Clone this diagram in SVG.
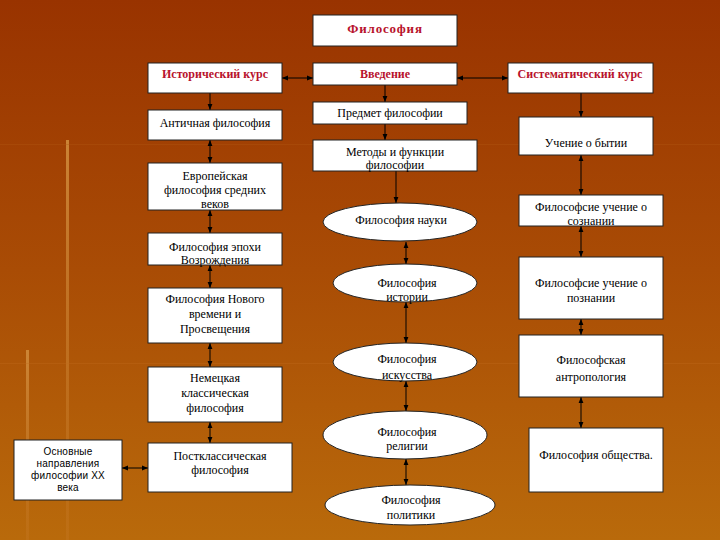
<svg xmlns="http://www.w3.org/2000/svg" width="720" height="540" viewBox="0 0 720 540">
<defs>
<linearGradient id="bg" x1="0" y1="0" x2="0" y2="1">
<stop offset="0" stop-color="#993300"/>
<stop offset="0.5" stop-color="#a94c05"/>
<stop offset="1" stop-color="#b96a0b"/>
</linearGradient>
<linearGradient id="deco" x1="0" y1="0" x2="0" y2="1">
<stop offset="0" stop-color="#d08a3a" stop-opacity="0.9"/>
<stop offset="1" stop-color="#c77a28" stop-opacity="0.3"/>
</linearGradient>
<marker id="ah" viewBox="0 0 10 10" refX="10" refY="5" markerWidth="6" markerHeight="6" orient="auto-start-reverse" markerUnits="userSpaceOnUse">
<path d="M0,1 L10,5 L0,9 Z" fill="#000"/>
</marker>
</defs>
<style>
.box{fill:#fff;stroke:#222;stroke-width:1}
.t{font-family:"Liberation Serif","Times New Roman",serif;font-size:12px;fill:#000;text-anchor:middle}
.h{font-family:"Liberation Serif","Times New Roman",serif;font-size:12px;font-weight:bold;fill:#b8122c;text-anchor:middle}
.s{font-family:"Liberation Sans",Arial,sans-serif;font-size:10px;fill:#000;text-anchor:middle;letter-spacing:0.2px}
.c{stroke:#000;stroke-width:1;fill:none}
.one{marker-end:url(#ah)}
.two{marker-start:url(#ah);marker-end:url(#ah)}
</style>
<rect x="0" y="0" width="720" height="540" fill="url(#bg)"/>
<rect x="66" y="140" width="3" height="400" fill="url(#deco)"/>
<rect x="26" y="350" width="3" height="190" fill="url(#deco)"/>
<rect x="0" y="144" width="720" height="1" fill="#b35a14" opacity="0.35"/>
<rect x="0" y="363" width="720" height="1" fill="#c06a1c" opacity="0.35"/>

<g id="connectors">
<line class="c two" x1="282" y1="78" x2="313" y2="78"/>
<line class="c two" x1="457" y1="78" x2="508" y2="78"/>
<line class="c one" x1="210" y1="93" x2="210" y2="110"/>
<line class="c two" x1="210" y1="140" x2="210" y2="163"/>
<line class="c two" x1="210" y1="210" x2="210" y2="233"/>
<line class="c two" x1="210" y1="265" x2="210" y2="288"/>
<line class="c two" x1="210" y1="343" x2="210" y2="367"/>
<line class="c two" x1="210" y1="422" x2="210" y2="443"/>
<line class="c two" x1="122" y1="468" x2="148" y2="468"/>
<line class="c one" x1="385" y1="85" x2="385" y2="102"/>
<line class="c one" x1="385" y1="124" x2="385" y2="140"/>
<line class="c one" x1="396" y1="171" x2="396" y2="203"/>
<line class="c two" x1="406" y1="242" x2="406" y2="264"/>
<line class="c two" x1="406" y1="302" x2="406" y2="343"/>
<line class="c two" x1="406" y1="381" x2="406" y2="411"/>
<line class="c two" x1="406" y1="459" x2="406" y2="485"/>
<line class="c one" x1="581" y1="93" x2="581" y2="117"/>
<line class="c two" x1="581" y1="155" x2="581" y2="195"/>
<line class="c two" x1="581" y1="226" x2="581" y2="257"/>
<line class="c two" x1="581" y1="319" x2="581" y2="335"/>
<line class="c two" x1="581" y1="397" x2="581" y2="428"/>
</g>

<g id="philosophy"><rect class="box" x="313" y="15" width="144" height="31"/><text class="h" x="385" y="33" style="font-size:13px;letter-spacing:0.8px">Философия</text></g>
<g id="hist"><rect class="box" x="148" y="63" width="134" height="30"/><text class="h" x="215" y="78">Исторический курс</text></g>
<g id="intro"><rect class="box" x="313" y="63" width="144" height="22"/><text class="h" x="385" y="78">Введение</text></g>
<g id="syst"><rect class="box" x="508" y="63" width="145" height="30"/><text class="h" x="580" y="78">Систематический курс</text></g>

<g id="antique"><rect class="box" x="148" y="110" width="134" height="30"/><text class="t" x="215" y="127">Античная философия</text></g>
<g id="medieval"><rect class="box" x="148" y="163" width="134" height="47"/><text class="t" x="215" y="180">Европейская</text><text class="t" x="215" y="194">философия средних</text><text class="t" x="215" y="208">веков</text></g>
<g id="renaissance"><rect class="box" x="148" y="233" width="134" height="32"/><text class="t" x="215" y="251">Философия эпохи</text><text class="t" x="215" y="264">Возрождения</text></g>
<g id="modern"><rect class="box" x="148" y="288" width="134" height="55"/><text class="t" x="215" y="303">Философия Нового</text><text class="t" x="215" y="318">времени и</text><text class="t" x="215" y="333">Просвещения</text></g>
<g id="german"><rect class="box" x="148" y="367" width="134" height="55"/><text class="t" x="215" y="382">Немецкая</text><text class="t" x="215" y="397">классическая</text><text class="t" x="215" y="412">философия</text></g>
<g id="postclassic"><rect class="box" x="148" y="443" width="144" height="49"/><text class="t" x="220" y="460">Постклассическая</text><text class="t" x="220" y="474">философия</text></g>
<g id="xx"><rect class="box" x="14" y="440" width="108" height="60"/><text class="s" x="68" y="455">Основные</text><text class="s" x="68" y="467">направления</text><text class="s" x="68" y="479">философии XX</text><text class="s" x="68" y="491">века</text></g>

<g id="subject"><rect class="box" x="313" y="102" width="154" height="22"/><text class="t" x="390" y="117">Предмет философии</text></g>
<g id="methods"><rect class="box" x="313" y="140" width="164" height="31"/><text class="t" x="395" y="156">Методы и функции</text><text class="t" x="395" y="169">философии</text></g>
<g id="science"><ellipse class="box" cx="400" cy="222" rx="77" ry="19"/><text class="t" x="401" y="224">Философия науки</text></g>
<g id="history"><ellipse class="box" cx="405" cy="283" rx="72" ry="19"/><text class="t" x="407" y="287">Философия</text><text class="t" x="407" y="301">истории</text></g>
<g id="art"><ellipse class="box" cx="405" cy="362" rx="72" ry="19"/><text class="t" x="407" y="363">Философия</text><text class="t" x="407" y="379">искусства</text></g>
<g id="religion"><ellipse class="box" cx="405" cy="435" rx="82" ry="24"/><text class="t" x="407" y="436">Философия</text><text class="t" x="407" y="450">религии</text></g>
<g id="politics"><ellipse class="box" cx="410" cy="505" rx="85" ry="20"/><text class="t" x="411" y="504">Философия</text><text class="t" x="411" y="519">политики</text></g>

<g id="being"><rect class="box" x="519" y="117" width="134" height="38"/><text class="t" x="586" y="147">Учение о бытии</text></g>
<g id="consciousness"><rect class="box" x="519" y="195" width="144" height="31"/><text class="t" x="591" y="211">Философсие учение о</text><text class="t" x="591" y="225">сознании</text></g>
<g id="cognition"><rect class="box" x="519" y="257" width="144" height="62"/><text class="t" x="591" y="287">Философсие учение о</text><text class="t" x="591" y="302">познании</text></g>
<g id="anthropology"><rect class="box" x="519" y="335" width="144" height="62"/><text class="t" x="591" y="364">Философская</text><text class="t" x="591" y="381">антропология</text></g>
<g id="society"><rect class="box" x="529" y="428" width="134" height="64"/><text class="t" x="596" y="459">Философия общества.</text></g>
</svg>
